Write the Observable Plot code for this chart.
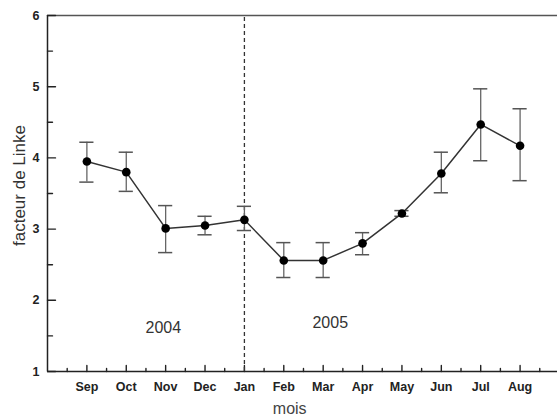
<!DOCTYPE html>
<html>
<head>
<meta charset="utf-8">
<script src="https://cdn.jsdelivr.net/npm/d3@7"></script>
<script src="https://cdn.jsdelivr.net/npm/@observablehq/plot@0.6"></script>
<style>
  html, body { margin: 0; padding: 0; background: #fff; }
  svg { font-family: "Liberation Sans", Arial, sans-serif; }
</style>
</head>
<body>
<div id="chart"></div>
<script>
const months = ["Sep","Oct","Nov","Dec","Jan","Feb","Mar","Apr","May","Jun","Jul","Aug"];
const values = [3.95, 3.80, 3.01, 3.05, 3.13, 2.56, 2.56, 2.80, 3.22, 3.78, 4.47, 4.17];
const errLow  = [3.66, 3.53, 2.67, 2.92, 2.98, 2.32, 2.32, 2.64, 3.18, 3.51, 3.96, 3.68];
const errHigh = [4.22, 4.08, 3.33, 3.18, 3.32, 2.81, 2.81, 2.95, 3.26, 4.08, 4.97, 4.69];
const yearLabels = [{text: "2004", i: 1.94, v: 1.61}, {text: "2005", i: 6.18, v: 1.68}];
const yMajor = [1, 2, 3, 4, 5, 6];
const yMinor = [1.5, 2.5, 3.5, 4.5, 5.5];
const yearBreak = 4; // Jan
const yTitle = "facteur de Linke";
const xTitle = "mois";

const data = months.map((m, i) => ({i, m, v: values[i], lo: errLow[i], hi: errHigh[i]}));
const xMajor = d3.range(0, 13);
const xMinor = d3.range(-0.5, 12, 1);
const cap = 0.18;
const xStart = -1;

const chart = Plot.plot({
  width: 557,
  height: 419,
  marginLeft: 47,
  marginRight: 0,
  marginTop: 15,
  marginBottom: 48,
  x: {domain: [xStart, 11.95], label: null},
  y: {domain: [1, 6], label: null},
  marks: [
    // frame lines
    Plot.ruleY([6], {stroke: "#555", strokeWidth: 1.5}),
    Plot.ruleY([1], {stroke: "#222", strokeWidth: 1.5}),
    Plot.ruleX([xStart], {stroke: "#222", strokeWidth: 1.5}),
    // inward y ticks (pointing right)
    Plot.vector(yMajor, {x: () => xStart, y: (d) => d, length: 8, rotate: 90, anchor: "start",
      shape: "spike", r: 0.01, stroke: "#222", strokeWidth: 1.4}),
    Plot.vector(yMinor, {x: () => xStart, y: (d) => d, length: 5, rotate: 90, anchor: "start",
      shape: "spike", r: 0.01, stroke: "#222", strokeWidth: 1.4}),
    // inward x ticks (pointing up)
    Plot.vector(xMajor, {x: (d) => d, y: () => 1, length: 6, rotate: 0, anchor: "start",
      shape: "spike", r: 0.01, stroke: "#222", strokeWidth: 1.4}),
    Plot.vector(xMinor, {x: (d) => d, y: () => 1, length: 3, rotate: 0, anchor: "start",
      shape: "spike", r: 0.01, stroke: "#222", strokeWidth: 1.4}),
    // tick labels
    Plot.axisY({ticks: yMajor, tickSize: 0, tickPadding: 8, fontSize: 12.5, fontWeight: "bold", fill: "#222",
      tickFormat: (d) => String(d), label: null}),
    Plot.axisX({ticks: d3.range(0, 12), tickSize: 0, tickPadding: 11, fontSize: 12.5, fontWeight: "bold", fill: "#222",
      tickFormat: (d) => months[d], label: null}),
    // axis titles
    Plot.text([yTitle], {frameAnchor: "left", textAnchor: "middle", lineAnchor: "middle", rotate: -90,
      dx: -28, dy: -8, fontSize: 17, fill: "#333"}),
    Plot.text([xTitle], {x: () => 5.15, frameAnchor: "bottom", lineAnchor: "middle", dy: 37, fontSize: 16, fill: "#444"}),
    // year separator
    Plot.ruleX([yearBreak], {y1: 1, y2: 6, stroke: "#333", strokeDasharray: "4,3", strokeWidth: 1.3}),
    // error bars
    Plot.ruleX(data, {x: "i", y1: "lo", y2: "hi", stroke: "#666", strokeWidth: 1.3}),
    Plot.ruleY(data, {y: "lo", x1: (d) => d.i - cap, x2: (d) => d.i + cap, stroke: "#555", strokeWidth: 1.5}),
    Plot.ruleY(data, {y: "hi", x1: (d) => d.i - cap, x2: (d) => d.i + cap, stroke: "#555", strokeWidth: 1.5}),
    // line + dots
    Plot.line(data, {x: "i", y: "v", stroke: "#333", strokeWidth: 1.5}),
    Plot.dot(data, {x: "i", y: "v", r: 4.3, fill: "#000", stroke: "none"}),
    // year labels
    Plot.text(yearLabels, {x: "i", y: "v", text: "text", fontSize: 16, fill: "#333"})
  ]
});
document.getElementById("chart").appendChild(chart);
</script>
</body>
</html>
